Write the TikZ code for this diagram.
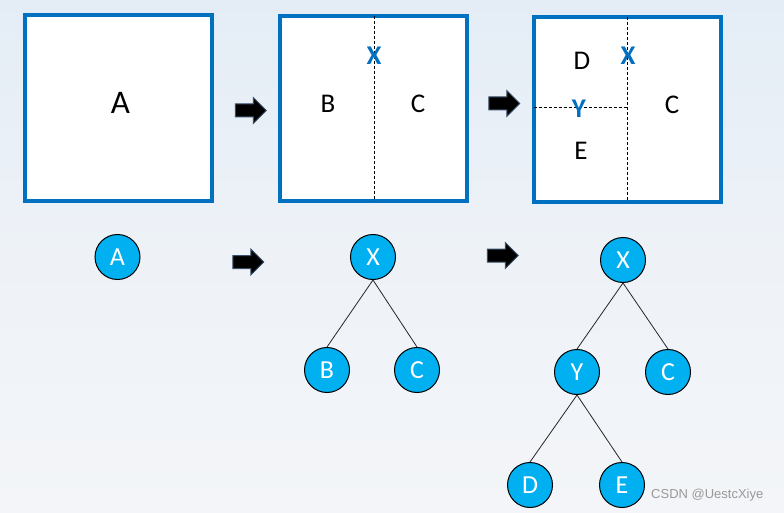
\documentclass[tikz,border=0pt]{standalone}
\usepackage{fontspec}
\setmainfont{Carlito}
\newfontfamily\wmfont{Liberation Sans}
\usetikzlibrary{shapes.arrows}
\definecolor{boxblue}{HTML}{0070C0}
\definecolor{nodeblue}{HTML}{00B0F0}
\definecolor{arrowedge}{HTML}{3B4F6B}
\definecolor{bgtop}{HTML}{E4EDF6}
\definecolor{bgmid}{HTML}{EEF2F7}
\definecolor{bgbot}{HTML}{F3F5F8}
\tikzset{
  region/.style={draw=boxblue, line width=4pt, fill=white},
  split/.style={draw=black, line width=0.9pt, dash pattern=on 3pt off 2pt},
  boxlabel/.style={font=\fontsize{27}{27}\selectfont, text height=17.4pt, text depth=0pt, inner sep=0pt},
  biglabel/.style={font=\fontsize{33}{33}\selectfont, text height=21.3pt, text depth=0pt, inner sep=0pt},
  cutlabel/.style={font=\fontsize{27}{27}\selectfont\bfseries, text=boxblue, text height=17.4pt, text depth=0pt, inner sep=0pt},
  treenode/.style={circle, draw=black, line width=1pt, fill=nodeblue, text=white, minimum size=45pt, inner sep=0pt, font=\fontsize{26}{26}\selectfont},
  edge/.style={draw=black!85, line width=0.8pt},
  blockarrow/.style={single arrow, draw=arrowedge, line width=1pt, fill=black, minimum height=31pt, minimum width=25pt, inner sep=6pt, single arrow head extend=6.5pt},
}
\begin{document}
\begin{tikzpicture}[x=1pt, y=-1pt]
\useasboundingbox (0,0) rectangle (784,513);
\shade[top color=bgtop, bottom color=bgbot, middle color=bgmid] (0,0) rectangle (784,513);
% boxes
\draw[region] (24.5,14.7) rectangle (212,201);
\draw[region] (280,16) rectangle (466.5,201);
\draw[region] (533.5,17) rectangle (721,202);
% splits
\coordinate (s1t) at (374,16);
\coordinate (s1b) at (374,201);
\draw[split] (s1t) -- (s1b);
\coordinate (s2t) at (627,17);
\coordinate (s2b) at (627,202);
\coordinate (s2l) at (533.5,107);
\coordinate (s2m) at (627,107);
\draw[split] (s2t) -- (s2b);
\draw[split] (s2l) -- (s2m);
% labels in boxes
\node[biglabel] (lA) at (120.5,103) {A};
\node[boxlabel] (lB) at (328,104) {B};
\node[boxlabel] (lC) at (418,104) {C};
\node[cutlabel] (lX) at (374,56) {X};
\node[boxlabel] (lD) at (582,61) {D};
\node[cutlabel] (lX2) at (628,56) {X};
\node[cutlabel] (lY) at (579,109) {Y};
\node[boxlabel] (lE) at (581,151) {E};
\node[boxlabel] (lC2) at (672,105) {C};
% arrows
\node[blockarrow] (ar1) at (247.5,110.5) {};
\node[blockarrow] (ar2) at (501,103.5) {};
\node[blockarrow] (ar3) at (245,262) {};
\node[blockarrow] (ar4) at (499.5,255.5) {};
% trees
\node[treenode] (tA) at (117.5,257) {A};
\node[treenode] (tX) at (373,257) {X};
\node[treenode] (tB) at (327,370) {B};
\node[treenode] (tC) at (417,370) {C};
\draw[edge] (tX.south) -- (tB.north);
\draw[edge] (tX.south) -- (tC.north);
\node[treenode] (uX) at (623,260) {X};
\node[treenode] (uY) at (577,372) {Y};
\node[treenode] (uC) at (668,372) {C};
\node[treenode] (uD) at (530,485) {D};
\node[treenode] (uE) at (622,485) {E};
\draw[edge] (uX.south) -- (uY.north);
\draw[edge] (uX.south) -- (uC.north);
\draw[edge] (uY.south) -- (uD.north);
\draw[edge] (uY.south) -- (uE.north);
% watermark
\node[anchor=west, inner sep=0pt, text=black!40, font=\wmfont\fontsize{13}{13}\selectfont] (wm) at (651,495) {CSDN @UestcXiye};
\end{tikzpicture}
\end{document}
